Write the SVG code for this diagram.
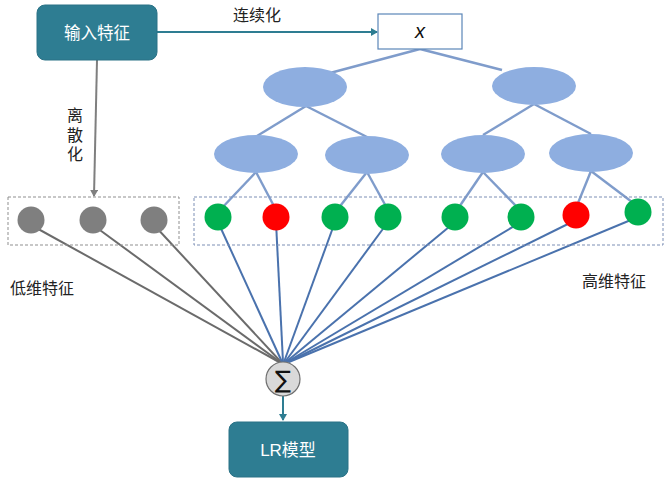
<svg xmlns="http://www.w3.org/2000/svg" width="667" height="483" viewBox="0 0 667 483">
<defs>
<style>
.txt{font-family:"Liberation Sans","Noto Sans CJK SC",sans-serif;font-size:16px;fill:#222}
.wtxt{font-family:"Liberation Sans","Noto Sans CJK SC",sans-serif;fill:#fff;text-anchor:middle}
.box{fill:#2e7d92;stroke:#2a7286;stroke-width:1}
.tree{stroke:#7f9ccb;stroke-width:2.4;fill:none}
.ell{fill:#8eaee0}
.g{fill:#00b050}
.r{fill:#ff0000}
.gr{fill:#7f7f7f}
.gl{stroke:#6b6b6b;stroke-width:2;fill:none}
.bl{stroke:#4a72ad;stroke-width:2;fill:none}
.dash{fill:none;stroke:#8f8f8f;stroke-width:1;stroke-dasharray:3,2}
</style>
<marker id="ah" markerWidth="8" markerHeight="8" refX="6" refY="4" orient="auto" markerUnits="userSpaceOnUse"><path d="M0,0 L7,4 L0,8 z" fill="#2e7d92"/></marker>
<marker id="ahg" markerWidth="8" markerHeight="8" refX="6" refY="4" orient="auto" markerUnits="userSpaceOnUse"><path d="M0,0 L7,4 L0,8 z" fill="#7f7f7f"/></marker>
</defs>
<rect width="667" height="483" fill="#ffffff"/>
<g id="connectors">
<line x1="157" y1="32" x2="377" y2="32" stroke="#2e7d92" stroke-width="2.2" marker-end="url(#ah)"/>
<line x1="97" y1="60" x2="94" y2="196" stroke="#7f7f7f" stroke-width="2" marker-end="url(#ahg)"/>
<g class="tree">
<line x1="420" y1="49" x2="330" y2="73"/>
<line x1="420" y1="49" x2="502" y2="70"/>
<line x1="306" y1="106" x2="257" y2="136"/>
<line x1="306" y1="106" x2="367" y2="137"/>
<line x1="534" y1="104" x2="483" y2="135"/>
<line x1="534" y1="104" x2="591" y2="134"/>
<line x1="256" y1="172" x2="220" y2="210"/>
<line x1="256" y1="172" x2="276" y2="210"/>
<line x1="367" y1="172" x2="337" y2="210"/>
<line x1="367" y1="172" x2="388" y2="210"/>
<line x1="483" y1="172" x2="457" y2="210"/>
<line x1="483" y1="172" x2="520" y2="210"/>
<line x1="591" y1="171" x2="576" y2="208"/>
<line x1="591" y1="171" x2="636" y2="205"/>
</g>
<g class="gl">
<line x1="31" y1="225" x2="279" y2="362"/>
<line x1="93" y1="225" x2="280" y2="362"/>
<line x1="154" y1="225" x2="281" y2="362"/>
</g>
<g class="bl">
<line x1="218" y1="222" x2="282" y2="362"/>
<line x1="276" y1="222" x2="283" y2="362"/>
<line x1="335" y1="222" x2="284" y2="362"/>
<line x1="388" y1="222" x2="285" y2="362"/>
<line x1="455" y1="222" x2="286" y2="362"/>
<line x1="521" y1="222" x2="287" y2="362"/>
<line x1="576" y1="220" x2="288" y2="362"/>
<line x1="638" y1="217" x2="289" y2="362"/>
</g>
<line x1="283" y1="396" x2="283" y2="420" stroke="#2e7d92" stroke-width="2" marker-end="url(#ah)"/>
</g>
<g id="input">
<rect class="box" x="37" y="5" width="120" height="55" rx="8"/>
<text class="wtxt" x="97" y="39" font-size="16.5">输入特征</text>
</g>
<text class="txt" x="257" y="21" text-anchor="middle">连续化</text>
<g id="lisan">
<text class="txt" x="75" y="121" text-anchor="middle">离</text>
<text class="txt" x="75" y="141" text-anchor="middle">散</text>
<text class="txt" x="75" y="160" text-anchor="middle">化</text>
</g>
<g id="xbox">
<rect x="378" y="14" width="84" height="35" fill="#fff" stroke="#5b86b8" stroke-width="1.2"/>
<text x="420" y="38" text-anchor="middle" font-family="Liberation Sans, sans-serif" font-style="italic" font-size="20" fill="#111">x</text>
</g>
<g id="tree-nodes">
<ellipse class="ell" cx="305" cy="87" rx="42" ry="20"/>
<ellipse class="ell" cx="534" cy="86" rx="42" ry="19"/>
<ellipse class="ell" cx="256" cy="154" rx="42" ry="19"/>
<ellipse class="ell" cx="367" cy="155" rx="42" ry="19"/>
<ellipse class="ell" cx="483" cy="154" rx="42" ry="19"/>
<ellipse class="ell" cx="591" cy="153" rx="42" ry="19"/>
</g>
<g id="low-features">
<rect class="dash" x="8" y="197" width="171" height="48"/>
<circle class="gr" cx="31" cy="220" r="13.5"/>
<circle class="gr" cx="93" cy="220" r="13.5"/>
<circle class="gr" cx="154" cy="220" r="13.5"/>
</g>
<g id="high-features">
<rect class="dash" x="194" y="197" width="469" height="48" style="stroke:#7c8fb5"/>
<circle class="g" cx="218" cy="217" r="13.5"/>
<circle class="r" cx="276" cy="217" r="13.5"/>
<circle class="g" cx="335" cy="217" r="13.5"/>
<circle class="g" cx="388" cy="217" r="13.5"/>
<circle class="g" cx="455" cy="217" r="13.5"/>
<circle class="g" cx="521" cy="217" r="13.5"/>
<circle class="r" cx="576" cy="215" r="13.5"/>
<circle class="g" cx="638" cy="212" r="13.5"/>
</g>
<text class="txt" x="10" y="294">低维特征</text>
<text class="txt" x="582" y="287">高维特征</text>
<g id="sum">
<circle cx="283" cy="379" r="17" fill="#d9d9d9" stroke="#6f6f6f" stroke-width="1.2"/>
<text x="283" y="388" text-anchor="middle" font-family="DejaVu Sans, sans-serif" font-size="24" fill="#111">∑</text>
</g>
<g id="lr">
<rect class="box" x="229" y="422" width="119" height="55" rx="8"/>
<text class="wtxt" x="288" y="456" font-size="17">LR模型</text>
</g>
</svg>
